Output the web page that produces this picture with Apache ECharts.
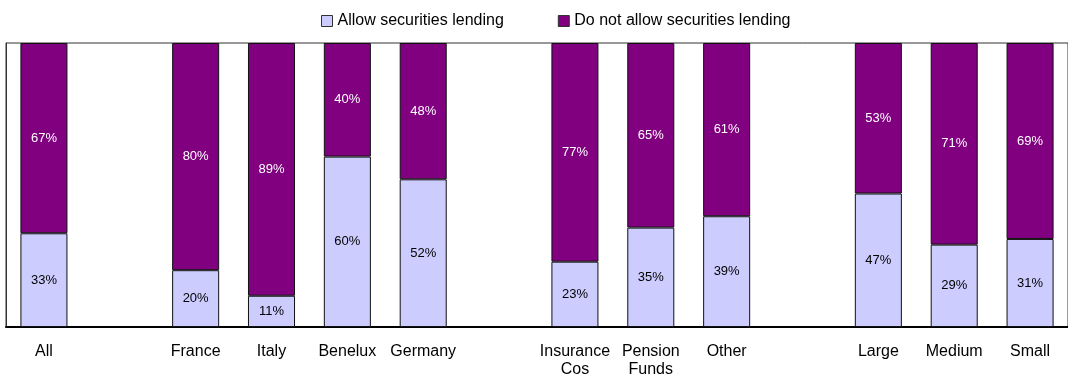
<!DOCTYPE html>
<html>
<head>
<meta charset="utf-8">
<script src="https://cdn.jsdelivr.net/npm/echarts@6/dist/echarts.min.js"></script>
<style>
  html, body { margin: 0; padding: 0; background: #ffffff; }
  #chart { width: 1068px; height: 379px; }
</style>
</head>
<body>
<div id="chart"></div>
<script>
// Categories; empty strings are spacer slots between the groups
const categories = ['All', '', 'France', 'Italy', 'Benelux', 'Germany', '', 'Insurance\nCos', 'Pension\nFunds', 'Other', '', 'Large', 'Medium', 'Small'];
// Share of respondents (%), null for spacer slots
const allowValues = [33, null, 20, 11, 60, 52, null, 23, 35, 39, null, 47, 29, 31];
const disallowValues = [67, null, 80, 89, 40, 48, null, 77, 65, 61, null, 53, 71, 69];
const seriesNames = ['Allow securities lending', 'Do not allow securities lending'];

const FONT = 'Liberation Sans, Arial, sans-serif';
const chart = echarts.init(document.getElementById('chart'), null, { renderer: 'canvas' });

function pctLabel(color) {
  return {
    show: true,
    position: 'inside',
    formatter: p => (p.value == null ? '' : p.value + '%'),
    color: color,
    fontFamily: FONT,
    fontSize: 13
  };
}

chart.setOption({
  animation: false,
  backgroundColor: '#ffffff',
  legend: {
    left: 316,
    top: 8,
    itemWidth: 11,
    itemHeight: 11,
    itemGap: 54,
    icon: 'rect',
    textStyle: { fontFamily: FONT, fontSize: 16, color: '#000000' },
    itemStyle: { borderColor: '#333333', borderWidth: 1 },
    data: seriesNames
  },
  grid: {
    left: 6,
    right: -11,
    top: 43,
    bottom: 50,
    show: true,
    borderColor: '#333333',
    borderWidth: 1,
    containLabel: false
  },
  xAxis: {
    type: 'category',
    data: categories,
    axisLine: { show: true, lineStyle: { color: '#000000', width: 2 } },
    axisTick: { show: false },
    axisLabel: {
      interval: 0,
      margin: 16,
      fontFamily: FONT,
      fontSize: 16,
      color: '#000000',
      lineHeight: 18
    }
  },
  yAxis: {
    type: 'value',
    min: 0,
    max: 100,
    interval: 20,
    show: true,
    axisLine: { show: true, lineStyle: { color: '#333333', width: 1 } },
    axisTick: { show: false },
    axisLabel: { show: false },
    splitLine: { show: false }
  },
  series: [
    {
      name: seriesNames[0],
      type: 'bar',
      stack: 'share',
      barWidth: '62%',
      data: allowValues,
      itemStyle: { color: '#ccccff', borderColor: '#111111', borderWidth: 1 },
      label: pctLabel('#000000')
    },
    {
      name: seriesNames[1],
      type: 'bar',
      stack: 'share',
      barWidth: '62%',
      data: disallowValues,
      itemStyle: { color: '#800080', borderColor: '#111111', borderWidth: 1 },
      label: pctLabel('#ffffff')
    }
  ]
});
</script>
</body>
</html>
